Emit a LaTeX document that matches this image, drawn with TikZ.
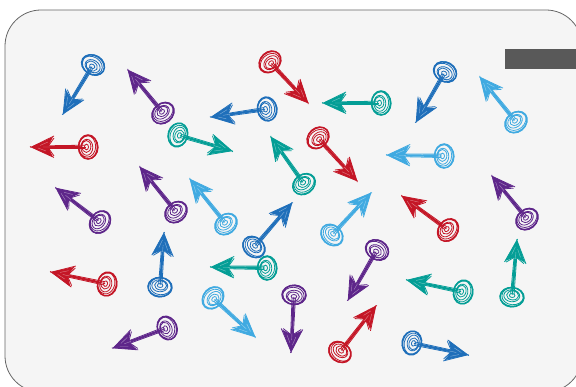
\documentclass[tikz,border=0pt]{standalone}
\usepackage{tikz}
\usetikzlibrary{calc}
\definecolor{spinblue}{RGB}{31,111,186}
\definecolor{spinpurple}{RGB}{94,38,138}
\definecolor{spinred}{RGB}{196,22,38}
\definecolor{spinteal}{RGB}{4,158,150}
\definecolor{spinsky}{RGB}{64,170,225}
\tikzset{
	spin ring/.style={line width=1.5pt},
	spin thin/.style={line width=.8pt},
	spin shaft/.style={line width=2.2pt,line cap=round},
	spin hatch/.style={white,opacity=.45,line width=.4pt},
}

\begin{document}
\begin{tikzpicture}[x=1pt,y=-1pt]
	\useasboundingbox (0,0) rectangle (576,387);
	\draw[black!60,line width=.8pt,fill=black!4,rounded corners=36pt] (5,10) rectangle (582,392);
	\fill[black!65] (505,49) rectangle (576,69);
	% tail x/y, tip x/y, colour
	\foreach \tx/\ty/\hx/\hy/\col [count=\i] in {
		93/65/63/114/spinblue, 163/113/128/70/spinpurple, 270/62/308/103/spinred,
		381/103/323/103/spinteal, 445/72/416/122/spinblue, 516/122/480/77/spinsky,
		267/109/211/117/spinblue, 88/147/31/147/spinred, 178/135/232/151/spinteal,
		304/184/271/137/spinteal, 318/138/357/181/spinred, 444/156/387/155/spinsky,
		100/222/56/188/spinpurple, 176/212/140/167/spinpurple, 226/224/190/179/spinsky,
		254/247/292/203/spinblue, 332/235/371/193/spinsky, 448/230/402/196/spinred,
		527/219/492/176/spinpurple, 107/284/51/272/spinred, 160/287/164/233/spinblue,
		267/268/211/267/spinteal, 377/250/348/300/spinpurple, 463/292/407/280/spinteal,
		512/297/517/240/spinteal, 213/298/255/337/spinsky, 294/295/291/352/spinpurple,
		340/352/376/306/spinred, 167/328/113/348/spinpurple, 412/343/468/355/spinblue}{
		\coordinate (t\i) at (\tx,\ty);
		\coordinate (h\i) at (\hx,\hy);
		\pgfmathanglebetweenpoints{\pgfpointanchor{t\i}{center}}{\pgfpointanchor{h\i}{center}}
		\let\ang\pgfmathresult
		\pgfpointdiff{\pgfpointanchor{t\i}{center}}{\pgfpointanchor{h\i}{center}}
		\pgfgetlastxy{\dx}{\dy}
		\pgfmathsetmacro\len{veclen(\dx,\dy)}
		\draw[spin shaft,\col] ($(t\i)!8pt!(h\i)$) -- ($(h\i)!15pt!(t\i)$);
		\begin{scope}[shift={(t\i)},rotate=\ang,\col]
			\draw[spin thin] (3,1.8) -- (\len-14,1.2) (3,-1.6) -- (\len-14,-1.4);
			\draw[spin ring] (0,0) ellipse [x radius=9.5,y radius=12];
			\draw[spin thin] (.8,.6) ellipse [x radius=8.5,y radius=10.8]
				(-.4,-.4) ellipse [x radius=9.8,y radius=11.6]
				(1.2,-.3) ellipse [x radius=6,y radius=8]
				(1.6,.5) ellipse [x radius=4.5,y radius=6]
				(1.5,0) ellipse [x radius=2,y radius=2.8];
			\draw[spin thin] (2,0) -- (8,0);
			\fill (\len,0) -- (\len-22,-10) -- (\len-17,0) -- (\len-22,10) -- cycle;
			\draw[spin thin] (\len+1,.5) -- (\len-23,-10.5) (\len+.5,-.5) -- (\len-23,11)
				(\len-23,-9) -- (\len-16,1) (\len-23,9) -- (\len-16,-1);
			\draw[spin hatch] (\len-7,-1) -- (\len-15,-4) (\len-9,1.5) -- (\len-17,5)
				(\len-12,0) -- (\len-19,0);
		\end{scope}
	}
\end{tikzpicture}
\end{document}
